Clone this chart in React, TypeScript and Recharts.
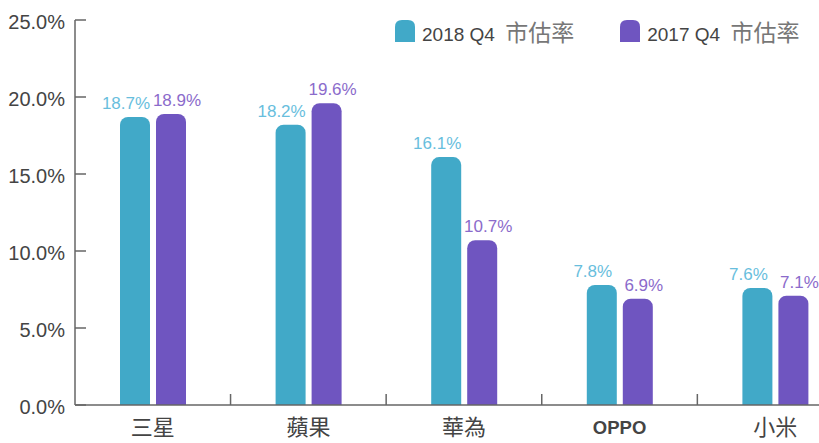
import { BarChart, Bar, XAxis, YAxis, Legend, LabelList } from "recharts";

const brands = ["三星", "蘋果", "華為", "OPPO", "小米"];
const share2018 = [18.7, 18.2, 16.1, 7.8, 7.6];
const share2017 = [18.9, 19.6, 10.7, 6.9, 7.1];
const yTicks = [0, 5, 10, 15, 20, 25];
const seriesNames = ["2018 Q4", "2017 Q4"];
const suffix = "市估率";

const data = brands.map((b, i) => ({ brand: b, q2018: share2018[i], q2017: share2017[i] }));

const TEAL = "#41a9c8";
const PURPLE = "#6f55c0";
const TEAL_LABEL = "#68bedd";
const PURPLE_LABEL = "#8b6bcb";
const FONT = "'Liberation Sans', Arial, 'Noto Sans CJK TC', sans-serif";
const AXIS = "#666";

const BAND = 155.5;

function YTick(props: any) {
  const { x, y, payload } = props;
  return (
    <g>
      <line x1={x + 10} x2={x + 21} y1={y} y2={y} stroke={AXIS} strokeWidth={1.5} />
      <text x={x + 0} y={y + 4} textAnchor="end" dominantBaseline="middle" fontSize={20} fill="#444" fontFamily={FONT}>
        {payload.value.toFixed(1)}%
      </text>
    </g>
  );
}

function XTick(props: any) {
  const { x, y, payload, index } = props;
  const latin = /^[A-Z]+$/.test(payload.value);
  return (
    <g>
      {index < brands.length - 1 && (
        <line x1={x + BAND / 2} x2={x + BAND / 2} y1={y} y2={y - 11} stroke={AXIS} strokeWidth={1.5} />
      )}
      <text
        x={x}
        y={y + 24}
        textAnchor="middle"
        dominantBaseline="middle"
        fontSize={latin ? 18.5 : 22}
        fill="#444"
        fontFamily={FONT}
        fontWeight={latin ? 700 : 400}
      >
        {payload.value}
      </text>
    </g>
  );
}

function makeLabel(color: string, dx: number) {
  return (p: any) => (
    <text x={p.x + p.width / 2 + dx} y={p.y - 8} textAnchor="middle" fontSize={17} fill={color} fontFamily={FONT}>
      {Number(p.value).toFixed(1)}%
    </text>
  );
}

function Marker({ color }: { color: string }) {
  return (
    <svg width={20} height={22} style={{ display: "block" }}>
      <path d="M0 22 V7 Q0 0 7 0 H13 Q20 0 20 7 V22 Z" fill={color} />
    </svg>
  );
}

function LegendBox() {
  const colors = [TEAL, PURPLE];
  return (
    <div style={{ display: "flex", fontFamily: FONT, fontSize: 19, color: "#444" }}>
      {seriesNames.map((n, i) => (
        <div key={n} style={{ display: "flex", alignItems: "center", marginRight: i === 0 ? 46 : 0 }}>
          <Marker color={colors[i]} />
          <span style={{ marginLeft: 7 }}>
            {n} <span style={{ color: "#777", fontSize: 23, marginLeft: 5 }}>{suffix}</span>
          </span>
        </div>
      ))}
    </div>
  );
}

export default function App() {
  return (
    <div style={{ position: "absolute", left: 0, top: 0, width: 819, height: 443, overflow: "hidden", background: "#fff" }}>
      <BarChart
        width={853}
        height={443}
        data={data}
        margin={{ top: 20, right: 0, left: 0, bottom: 0 }}
        barCategoryGap="28.5%"
        barGap={6}
      >
        <XAxis
          dataKey="brand"
          height={38}
          tickLine={false}
          tickSize={0}
          tickMargin={0}
          stroke={AXIS}
          strokeWidth={1.5}
          tick={<XTick />}
          interval={0}
        />
        <YAxis
          width={75}
          domain={[0, 25]}
          ticks={yTicks}
          tickLine={false}
          tickSize={0}
          tickMargin={10}
          stroke={AXIS}
          strokeWidth={1.5}
          tick={<YTick />}
          interval={0}
        />
        <Legend
          layout="horizontal"
          verticalAlign="middle"
          align="center"
          wrapperStyle={{ top: 14, left: 395, width: 460 }}
          content={() => <LegendBox />}
        />
        <Bar dataKey="q2018" fill={TEAL} barSize={30} radius={[8, 8, 0, 0]} isAnimationActive={false}>
          <LabelList dataKey="q2018" content={makeLabel(TEAL_LABEL, -9)} />
        </Bar>
        <Bar dataKey="q2017" fill={PURPLE} barSize={30} radius={[8, 8, 0, 0]} isAnimationActive={false}>
          <LabelList dataKey="q2017" content={makeLabel(PURPLE_LABEL, 6)} />
        </Bar>
      </BarChart>
    </div>
  );
}
